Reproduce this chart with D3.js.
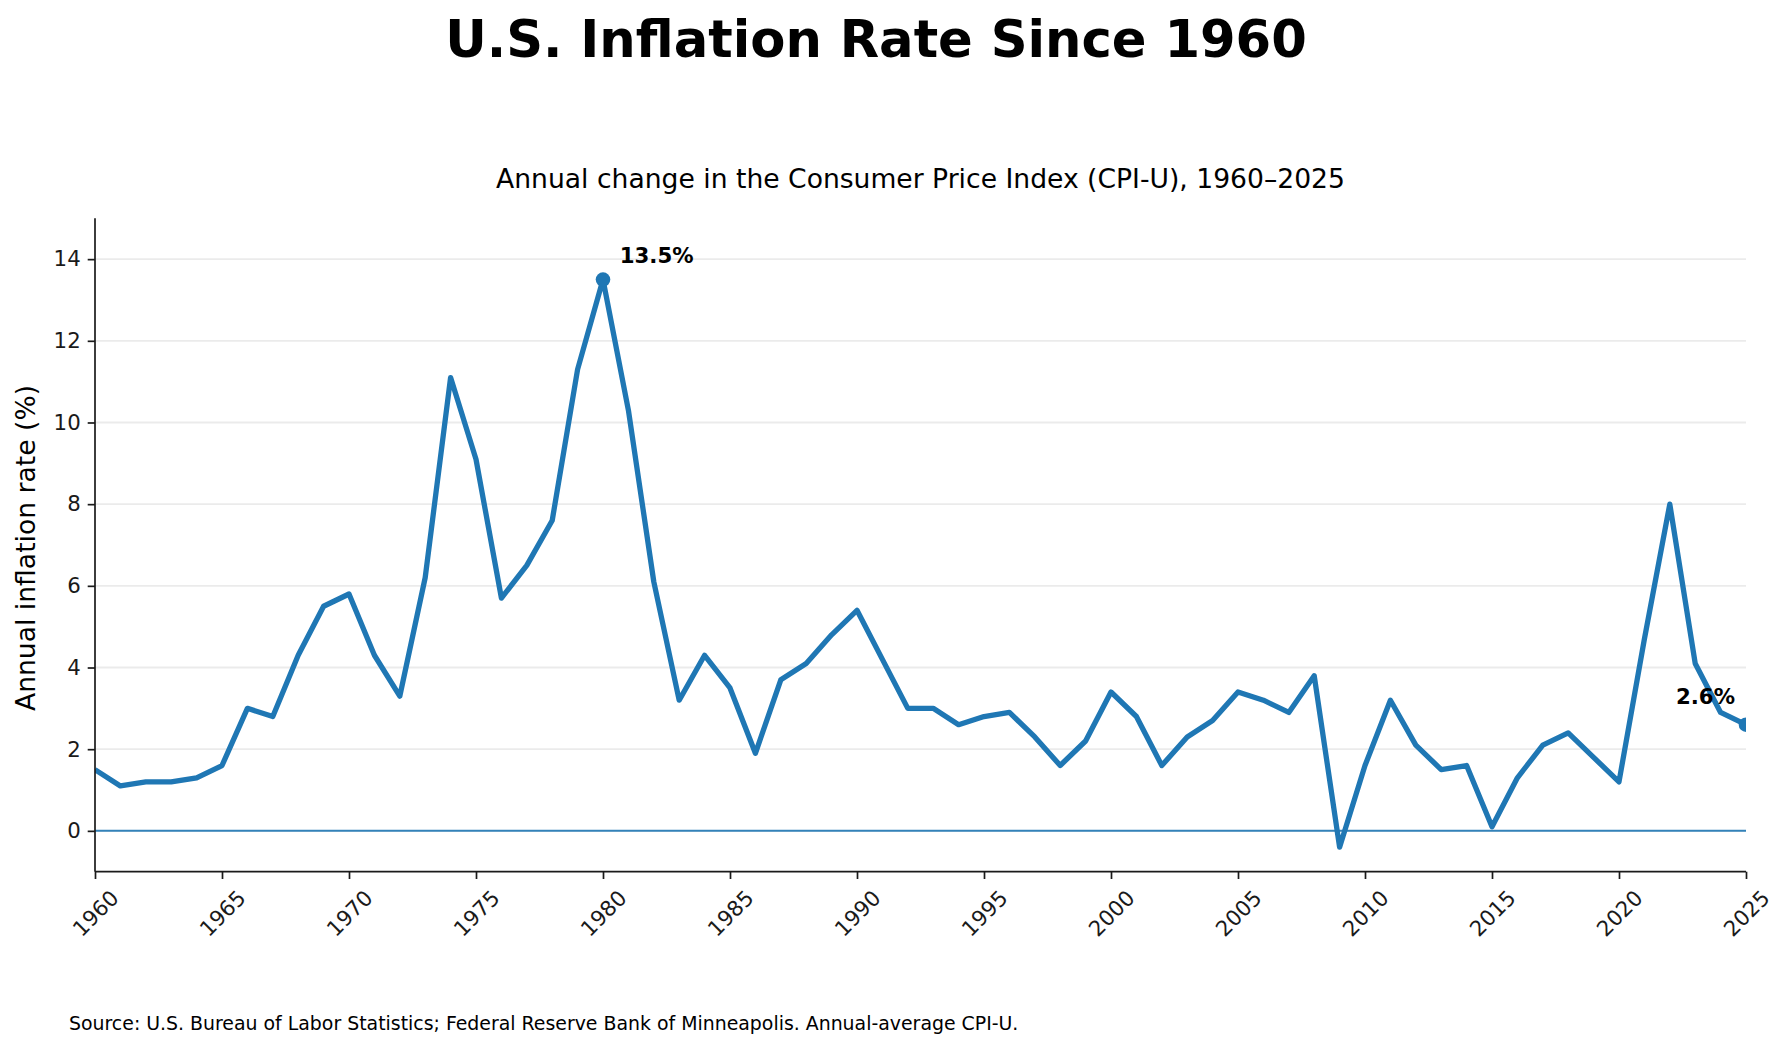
<!DOCTYPE html>
<html lang="en">
<head>
<meta charset="UTF-8">
<title>U.S. Inflation Rate Since 1960</title>
<script src="https://cdn.jsdelivr.net/npm/d3@7/dist/d3.min.js"></script>
<style>
  html, body { margin: 0; padding: 0; background: #fff; }
  svg { display: block; font-family: "DejaVu Sans", sans-serif; }
</style>
</head>
<body>
<svg width="1788" height="1051"></svg>
<script>
// data: annual-average CPI-U change
var years = d3.range(1960, 2026);
var rates = [
  1.5, 1.1, 1.2, 1.2, 1.3, 1.6, 3.0, 2.8, 4.3, 5.5,   // 1960s
  5.8, 4.3, 3.3, 6.2, 11.1, 9.1, 5.7, 6.5, 7.6, 11.3, // 1970s
  13.5, 10.3, 6.1, 3.2, 4.3, 3.5, 1.9, 3.7, 4.1, 4.8, // 1980s
  5.4, 4.2, 3.0, 3.0, 2.6, 2.8, 2.9, 2.3, 1.6, 2.2,   // 1990s
  3.4, 2.8, 1.6, 2.3, 2.7, 3.4, 3.2, 2.9, 3.8, -0.4,  // 2000s
  1.6, 3.2, 2.1, 1.5, 1.6, 0.1, 1.3, 2.1, 2.4, 1.8,   // 2010s
  1.2, 4.7, 8.0, 4.1, 2.9, 2.6                        // 2020s
];
var xTicks = d3.range(1960, 2026, 5);
var yTicks = [0, 2, 4, 6, 8, 10, 12, 14];
var highlights = [1980, 2025]; // peak and latest

var data = years.map(function(y, i) { return { year: y, rate: rates[i] }; });

var svg = d3.select('svg');
// plot box (window.top is read-only, so no "top" here)
var pL = 95, pR = 1746, pT = 218.3, pB = 871.7;
var blue = '#1f77b4';

var x = d3.scaleLinear().domain([1960, 2025]).range([pL, pR]);
var y = d3.scaleLinear().domain([-1, 15]).range([pB, pT]);

// title, subtitle
svg.append('text')
  .attr('x', 876).attr('y', 56.7)
  .attr('text-anchor', 'middle')
  .attr('font-size', 51.2).attr('font-weight', 'bold')
  .text('U.S. Inflation Rate Since 1960');

svg.append('text')
  .attr('x', (pL + pR) / 2).attr('y', 188)
  .attr('text-anchor', 'middle')
  .attr('font-size', 26.6)
  .text('Annual change in the Consumer Price Index (CPI-U), 1960\u20132025');

// clip to the plot area
svg.append('clipPath').attr('id', 'plot')
  .append('rect')
  .attr('x', pL).attr('y', pT)
  .attr('width', pR - pL).attr('height', pB - pT);

// horizontal grid
svg.append('g')
  .selectAll('line')
  .data(yTicks)
  .enter().append('line')
  .attr('x1', pL).attr('x2', pR)
  .attr('y1', function(d) { return y(d); })
  .attr('y2', function(d) { return y(d); })
  .attr('stroke', '#ebebeb')
  .attr('stroke-width', 1.8);

// zero line
svg.append('line')
  .attr('x1', pL).attr('x2', pR)
  .attr('y1', y(0)).attr('y2', y(0))
  .attr('stroke', blue).attr('stroke-opacity', 0.9)
  .attr('stroke-width', 2);

var g = svg.append('g').attr('clip-path', 'url(#plot)');

var line = d3.line()
  .x(function(d) { return x(d.year); })
  .y(function(d) { return y(d.rate); });

g.append('path')
  .datum(data)
  .attr('d', line)
  .attr('fill', 'none')
  .attr('stroke', blue)
  .attr('stroke-width', 5.3)
  .attr('stroke-linejoin', 'round')
  .attr('stroke-linecap', 'butt');

var marked = data.filter(function(d) { return highlights.indexOf(d.year) >= 0; });

g.selectAll('circle')
  .data(marked)
  .enter().append('circle')
  .attr('cx', function(d) { return x(d.year); })
  .attr('cy', function(d) { return y(d.rate); })
  .attr('r', 7.3)
  .attr('fill', blue);

// labels for the marked points
svg.selectAll('.note')
  .data(marked)
  .enter().append('text')
  .attr('class', 'note')
  .attr('x', function(d, i) { return x(d.year) + (i === 0 ? 16.7 : -11); })
  .attr('y', function(d, i) { return y(d.rate) - (i === 0 ? 16.7 : 21); })
  .attr('text-anchor', function(d, i) { return i === 0 ? 'start' : 'end'; })
  .attr('font-size', 21.3)
  .attr('font-weight', 'bold')
  .text(function(d) { return d.rate.toFixed(1) + '%'; });

// axes
var yAxis = svg.append('g')
  .attr('transform', 'translate(' + pL + ',0)')
  .call(d3.axisLeft(y).tickValues(yTicks).tickSize(7.3).tickPadding(7));
var xAxis = svg.append('g')
  .attr('transform', 'translate(0,' + pB + ')')
  .call(d3.axisBottom(x).tickValues(xTicks).tickFormat(d3.format('d')).tickSize(7.3));

[yAxis, xAxis].forEach(function(a) {
  a.select('.domain').attr('stroke', '#1a1a1a').attr('stroke-width', 1.7);
  a.selectAll('.tick line').attr('stroke', '#1a1a1a').attr('stroke-width', 1.7);
  a.selectAll('text').attr('font-size', 21.3).attr('fill', '#1a1a1a')
    .attr('font-family', '"DejaVu Sans", sans-serif');
});
yAxis.select('.domain').attr('d', 'M0,' + pT + 'V' + pB);
xAxis.select('.domain').attr('d', 'M' + pL + ',0H' + pR);

// rotated year labels, box centred under the tick
xAxis.selectAll('.tick text')
  .attr('y', 0).attr('dy', null)
  .attr('text-anchor', 'middle')
  .attr('dominant-baseline', 'central')
  .attr('transform', 'translate(0,41.5) rotate(-45)');

// y label
svg.append('text')
  .attr('transform', 'translate(35,548) rotate(-90)')
  .attr('text-anchor', 'middle')
  .attr('font-size', 26.6)
  .text('Annual inflation rate (%)');

// source
svg.append('text')
  .attr('x', 69).attr('y', 1030)
  .attr('font-size', 18.9)
  .text('Source: U.S. Bureau of Labor Statistics; Federal Reserve Bank of Minneapolis. Annual-average CPI-U.');
</script>
</body>
</html>
